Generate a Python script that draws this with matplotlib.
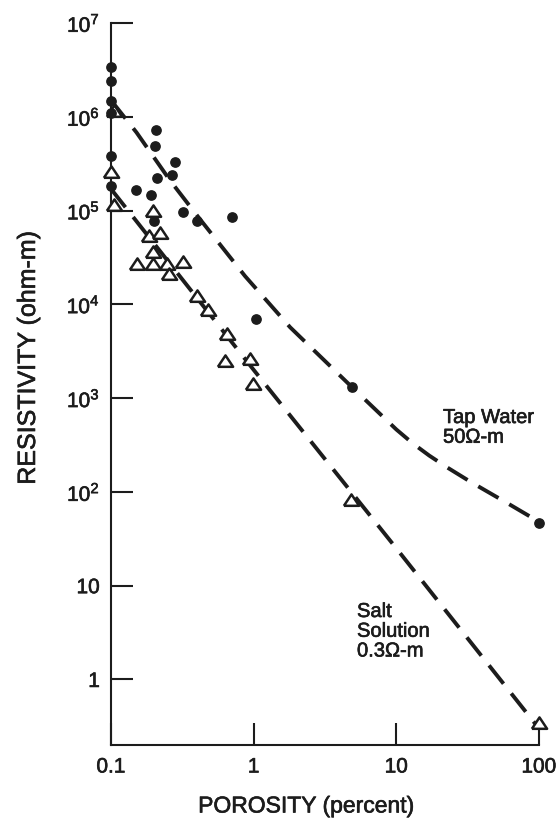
import matplotlib
matplotlib.use("Agg")
import matplotlib.pyplot as plt
import matplotlib.patheffects as pe

plt.rcParams['font.family'] = ['Liberation Sans', 'DejaVu Sans']
plt.rcParams['mathtext.fontset'] = 'custom'
plt.rcParams['mathtext.rm'] = 'Liberation Sans'

# Tap water samples (filled circles)
tap_porosity = [0.1, 0.1, 0.1, 0.1, 0.1, 0.1, 0.206, 0.205, 0.281, 0.266, 0.211,
                0.149, 0.191, 0.321, 0.40, 0.70, 0.20, 1.04, 4.86, 100]
tap_resist = [3.4e6, 2.4e6, 1.46e6, 1.09e6, 3.8e5, 1.85e5, 7.3e5, 4.9e5, 3.3e5, 2.4e5, 2.2e5,
              1.67e5, 1.47e5, 9.7e4, 7.7e4, 8.5e4, 7.7e4, 7.0e3, 1.33e3, 47]

# Salt solution samples (open triangles)
salt_porosity = [0.1, 0.105, 0.105, 0.198, 0.185, 0.22, 0.198, 0.151, 0.198, 0.245,
                 0.321, 0.255, 0.40, 0.48, 0.65, 0.63, 0.95, 0.99, 4.8, 100]
salt_resist = [2.6e5, 1.15e6, 1.16e5, 1.0e5, 5.4e4, 5.7e4, 3.6e4, 2.7e4, 2.7e4, 2.7e4,
               2.8e4, 2.1e4, 1.22e4, 8.7e3, 4.8e3, 2.5e3, 2.6e3, 1.4e3, 82, 0.34]

# Trend curves (dashed)
tap_curve_x = [0.1, 0.151, 0.259, 0.40, 0.87, 1.8, 4.86, 10, 13.1, 17, 22.5, 33.7, 59, 100]
tap_curve_y = [1.5e6, 6.8e5, 2.1e5, 8.9e4, 2.0e4, 5.7e3, 1.32e3, 463, 327, 244, 184, 126, 77, 48]
salt_curve_x = [0.1, 1, 10, 100]
salt_curve_y = [1.7e5, 2.0e3, 25, 0.3]

x_ticks = [0.1, 1, 10, 100]
x_ticklabels = ['0.1', '1', '10', '100']
y_ticks = [1, 10, 1e2, 1e3, 1e4, 1e5, 1e6, 1e7]
y_ticklabels = ['1', '10', r'$\mathregular{10^2}$', r'$\mathregular{10^3}$', r'$\mathregular{10^4}$',
                r'$\mathregular{10^5}$', r'$\mathregular{10^6}$', r'$\mathregular{10^7}$']

ink = '#1c1c1c'
heavy = [pe.withStroke(linewidth=0.45, foreground=ink)]

fig = plt.figure(figsize=(5.59, 8.19), dpi=100)
ax = fig.add_axes([111/559, 1 - 745/819, 428/559, 722/819])
ax.set_xscale('log')
ax.set_yscale('log')
ax.set_xlim(0.1, 100)
ax.set_ylim(0.2, 1e7)

ls = (0, (6, 3.2))
ax.plot(tap_curve_x, tap_curve_y, color=ink, lw=2.8, linestyle=ls, dash_capstyle='butt', zorder=2)
ax.plot(salt_curve_x, salt_curve_y, color=ink, lw=2.8, linestyle=ls, dash_capstyle='butt', zorder=2)

tri = [(-1, -0.7), (1, -0.7), (0, 0.8), (-1, -0.7)]
ax.scatter(salt_porosity, salt_resist, marker=tri, s=120, facecolors='white',
           edgecolors=ink, linewidths=1.8, zorder=3, clip_on=False)
ax.scatter(tap_porosity, tap_resist, marker='o', s=45, color=ink, zorder=4, clip_on=False)

for side in ['top', 'right']:
    ax.spines[side].set_visible(False)
for side in ['left', 'bottom']:
    ax.spines[side].set_linewidth(1.5)
    ax.spines[side].set_color(ink)

ax.set_xticks(x_ticks)
ax.set_xticklabels(x_ticklabels)
ax.set_yticks(y_ticks)
ax.set_yticklabels(y_ticklabels)
ax.minorticks_off()
ax.tick_params(axis='both', direction='in', length=16, width=1.5, color=ink,
               labelsize=15, labelcolor=ink)
ax.tick_params(axis='x', pad=9)
ax.tick_params(axis='y', pad=8)
for lab in ax.get_xticklabels() + ax.get_yticklabels():
    lab.set_path_effects(heavy)

fig.text(28/559, 1 - 358/819, 'RESISTIVITY (ohm-m)', rotation=90, ha='center', va='center',
         fontsize=18, color=ink, path_effects=heavy)
fig.text(306/559, 1 - 806/819, 'POROSITY (percent)', ha='center', va='center',
         fontsize=16.5, color=ink, path_effects=heavy)

fig.text(443/559, 1 - 408/819, 'Tap Water\n50\u03a9-m', ha='left', va='top',
         fontsize=14.5, color=ink, linespacing=1.05, path_effects=heavy)
fig.text(357/559, 1 - 602/819, 'Salt\nSolution\n0.3\u03a9-m', ha='left', va='top',
         fontsize=14.5, color=ink, linespacing=1.05, path_effects=heavy)

fig.savefig('out.png', dpi=100, facecolor='white')
